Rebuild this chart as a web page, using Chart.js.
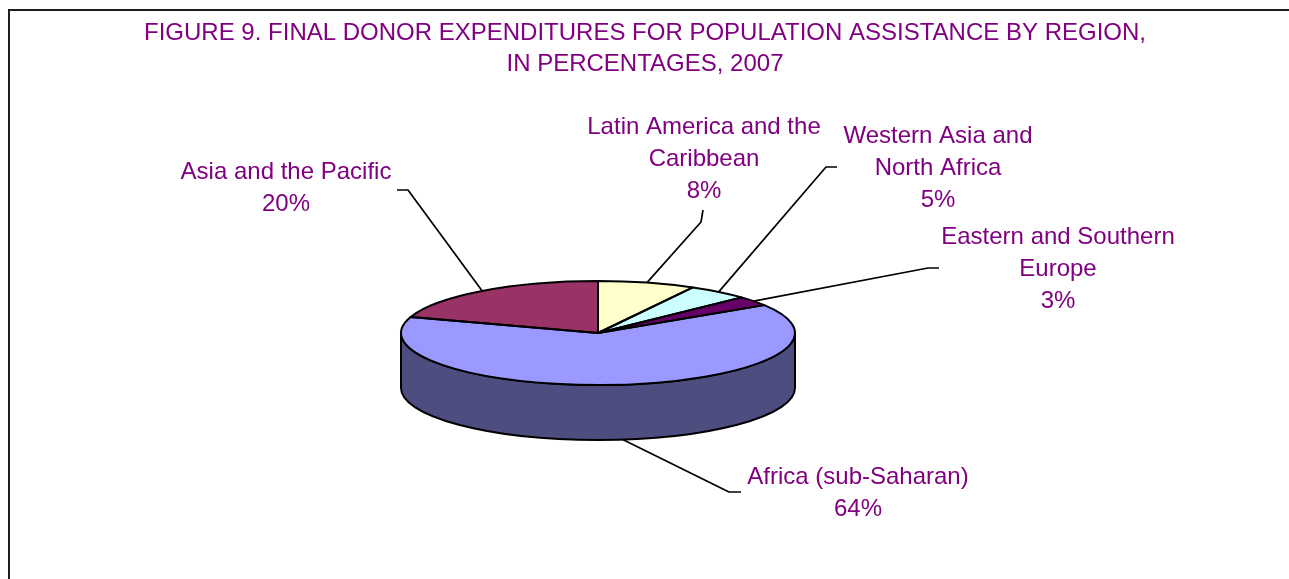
<!DOCTYPE html>
<html>
<head>
<meta charset="utf-8">
<script src="https://cdn.jsdelivr.net/npm/chart.js@4.4.1/dist/chart.umd.min.js"></script>
<style>
  html, body { margin: 0; padding: 0; background: #fff; }
  canvas { display: block; }
</style>
</head>
<body>
<canvas id="regionChart" width="1289" height="579"></canvas>
<script>
// Final donor expenditures for population assistance, 2007 (percent of total)
const regions = [
    ['Latin America and the', 'Caribbean'],
    ['Western Asia and', 'North Africa'],
    ['Eastern and Southern', 'Europe'],
    ['Africa (sub-Saharan)'],
    ['Asia and the Pacific']
];
const shares = [8, 5, 3, 64, 20];
const sliceColors = ['#FFFFCC', '#CCFFFF', '#660066', '#9999FF', '#993366'];

const titleLines = [
    'FIGURE 9. FINAL DONOR EXPENDITURES FOR POPULATION ASSISTANCE BY REGION,',
    'IN PERCENTAGES, 2007'
];

const TEXT_COLOR = '#800080';
const FONT = '24px "Liberation Sans", Arial, sans-serif';
const LINE_H = 32;

// flattening of the top face and height of the pie wall
const TILT = 52 / 197;
const DEPTH = 55;

// label block centre (first line) and the bend/end of each leader line
const labelLayout = [
    { x: 704, y: 127, bend: [701, 222], end: [703, 210] },
    { x: 938, y: 136, bend: [826, 167], end: [837, 167] },
    { x: 1058, y: 237, bend: [928, 268], end: [939, 268] },
    { x: 858, y: 477, bend: [729, 492], end: [741, 492] },
    { x: 286, y: 172, bend: [408, 190], end: [397, 190] }
];

function darken(hex, f) {
    const n = parseInt(hex.slice(1), 16);
    const r = Math.round(((n >> 16) & 255) * f);
    const g = Math.round(((n >> 8) & 255) * f);
    const b = Math.round((n & 255) * f);
    return `rgb(${r},${g},${b})`;
}

const pie3d = {
    id: 'pie3d',
    beforeDraw(chart) {
        const ctx = chart.ctx;
        ctx.save();
        ctx.fillStyle = '#fff';
        ctx.fillRect(0, 0, chart.width, chart.height);
        // frame (top and left edges)
        ctx.fillStyle = '#1e1e1e';
        ctx.fillRect(8, 9, chart.width - 8, 2);
        ctx.fillRect(8, 9, 2, chart.height - 9);
        // title
        ctx.fillStyle = TEXT_COLOR;
        ctx.font = FONT;
        ctx.textAlign = 'center';
        ctx.textBaseline = 'middle';
        titleLines.forEach((t, i) => ctx.fillText(t, 645, 33 + i * 31));
        ctx.restore();
    },
    beforeDatasetsDraw(chart) {
        const ctx = chart.ctx;
        const arcs = chart.getDatasetMeta(0).data;
        ctx.save();
        ctx.lineWidth = 2;
        ctx.strokeStyle = '#000';
        // wall under the front half of the pie
        arcs.forEach((arc, i) => {
            const a0 = Math.max(arc.startAngle, 0);
            const a1 = Math.min(arc.endAngle, Math.PI);
            if (a1 <= a0) return;
            const rx = arc.outerRadius, ry = rx * TILT;
            ctx.beginPath();
            ctx.ellipse(arc.x, arc.y, rx, ry, 0, a0, a1, false);
            ctx.ellipse(arc.x, arc.y + DEPTH, rx, ry, 0, a1, a0, true);
            ctx.closePath();
            ctx.fillStyle = darken(sliceColors[i], 0.5);
            ctx.fill();
            ctx.stroke();
        });
        ctx.restore();
        // squash the circle into the tilted top face
        const cy = arcs[0].y;
        ctx.save();
        ctx.translate(0, cy);
        ctx.scale(1, TILT);
        ctx.translate(0, -cy);
    },
    afterDatasetsDraw(chart) {
        const ctx = chart.ctx;
        ctx.restore();
        const arcs = chart.getDatasetMeta(0).data;
        ctx.save();
        ctx.lineWidth = 2;
        ctx.strokeStyle = '#000';
        ctx.lineJoin = 'round';
        // slice outlines on the top face
        arcs.forEach(arc => {
            const rx = arc.outerRadius, ry = rx * TILT;
            ctx.beginPath();
            ctx.moveTo(arc.x, arc.y);
            ctx.ellipse(arc.x, arc.y, rx, ry, 0, arc.startAngle, arc.endAngle, false);
            ctx.closePath();
            ctx.stroke();
        });
        // leader lines and labels
        ctx.lineWidth = 1.7;
        ctx.font = FONT;
        ctx.textAlign = 'center';
        ctx.textBaseline = 'middle';
        arcs.forEach((arc, i) => {
            const rx = arc.outerRadius, ry = rx * TILT;
            const mid = (arc.startAngle + arc.endAngle) / 2;
            const norm = ((mid % (2 * Math.PI)) + 2 * Math.PI) % (2 * Math.PI);
            const front = norm > 0 && norm < Math.PI;
            const px = arc.x + rx * Math.cos(mid);
            const py = arc.y + ry * Math.sin(mid) + (front ? DEPTH : 0);
            const lay = labelLayout[i];
            ctx.beginPath();
            ctx.moveTo(px, py);
            ctx.lineTo(lay.bend[0], lay.bend[1]);
            ctx.lineTo(lay.end[0], lay.end[1]);
            ctx.stroke();

            const lines = chart.data.labels[i].concat([shares[i] + '%']);
            ctx.fillStyle = TEXT_COLOR;
            lines.forEach((t, k) => ctx.fillText(t, lay.x, lay.y + k * LINE_H));
        });
        ctx.restore();
    }
};

new Chart(document.getElementById('regionChart'), {
    type: 'pie',
    data: {
        labels: regions,
        datasets: [{
            data: shares,
            backgroundColor: sliceColors,
            borderWidth: 0,
            hoverOffset: 0,
            clip: false
        }]
    },
    options: {
        responsive: false,
        animation: false,
        events: [],
        layout: { padding: { left: 401, right: 494, top: 136, bottom: 49 } },
        plugins: {
            legend: { display: false },
            tooltip: { enabled: false },
            title: { display: false }
        }
    },
    plugins: [pie3d]
});
</script>
</body>
</html>
